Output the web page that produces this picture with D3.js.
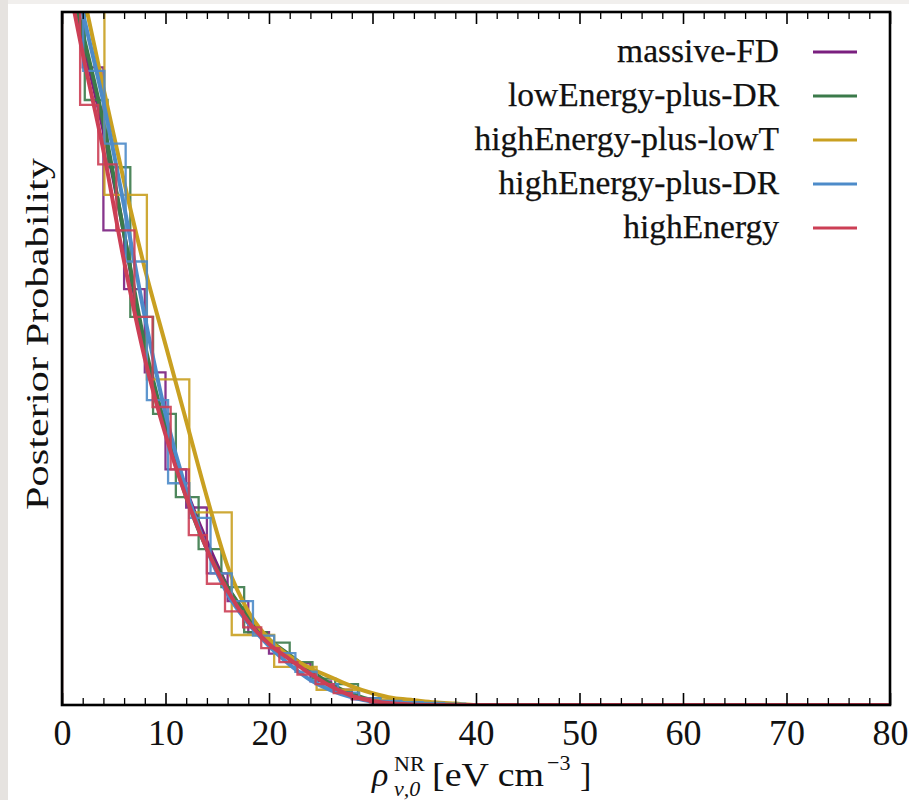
<!DOCTYPE html>
<html><head><meta charset="utf-8">
<script src="https://cdn.jsdelivr.net/npm/d3@7"></script>
<style>body{margin:0;background:#fff}svg{display:block}</style>
</head><body><svg id="c" width="909" height="800"></svg>
<script>
// ---------------- data ----------------
const categories = ["massive-FD","lowEnergy-plus-DR","highEnergy-plus-lowT","highEnergy-plus-DR","highEnergy"];
const xMajorTicks = [0,10,20,30,40,50,60,70,80];
const xMinorTicks = d3.range(0,81,2).filter(v => v % 10 !== 0);
const xTickLabels = ["0","10","20","30","40","50","60","70","80"];

// histogram bin layout (in units of rho)
const binStart = [0, 0, 0, 0, 0];
const binWidth = [2.0, 2.2, 4.1, 2.05, 1.75];

// histogram heights (posterior probability, arbitrary normalisation)
const histMassiveFD      = [1.06,0.92,0.685,0.60,0.48,0.34,0.285,0.19,0.15,0.105,0.074,0.060,0.034,0.022,0.008,0.003,0.001,0.0004,0.0001];
const histLowEnergyDR    = [1.05,0.873,0.776,0.56,0.42,0.30,0.225,0.17,0.105,0.09,0.062,0.038,0.03,0.010,0.004,0.001,0.0003];
const histHighEnergyLowT = [1.12,0.736,0.47,0.278,0.101,0.055,0.022,0.008,0.003,0.001];
const histHighEnergyDR   = [1.08,0.915,0.81,0.64,0.44,0.32,0.27,0.19,0.15,0.10,0.075,0.048,0.03,0.018,0.01,0.006,0.004,0.003,0.002];
const histHighEnergy     = [1.04,0.866,0.78,0.685,0.56,0.43,0.34,0.245,0.175,0.135,0.112,0.082,0.062,0.044,0.030,0.017,0.009,0.004,0.002,0.001,0.0003];

// smooth density curves sampled at curveX
const curveX = [0,2,4,6,8,10,12,14,16,18,20,22,24,26,28,30,32,34,36,38,40,80];
const curveMassiveFD      = [1.09,0.96,0.83,0.68,0.51,0.40,0.31,0.235,0.17,0.125,0.09,0.068,0.046,0.027,0.013,0.005,0.001,0,0,0,0,0];
const curveLowEnergyDR    = [1.10,0.97,0.84,0.68,0.52,0.40,0.30,0.225,0.17,0.128,0.095,0.072,0.05,0.03,0.016,0.007,0.003,0.001,0,0,0,0];
const curveHighEnergyLowT = [1.16,1.03,0.89,0.755,0.63,0.52,0.41,0.30,0.20,0.135,0.095,0.07,0.053,0.04,0.027,0.017,0.01,0.007,0.004,0.002,0,0];
const curveHighEnergyDR   = [1.14,1.00,0.87,0.72,0.56,0.42,0.31,0.225,0.16,0.118,0.085,0.058,0.036,0.021,0.011,0.005,0.002,0.0005,0,0,0,0];
const curveHighEnergy     = [1.09,0.94,0.80,0.64,0.50,0.39,0.30,0.225,0.165,0.12,0.088,0.066,0.045,0.027,0.013,0.006,0.002,0.0005,0,0,0,0];

const histData  = [histMassiveFD, histLowEnergyDR, histHighEnergyLowT, histHighEnergyDR, histHighEnergy];
const curveData = [curveMassiveFD, curveLowEnergyDR, curveHighEnergyLowT, curveHighEnergyDR, curveHighEnergy];

// ---------------- styles ----------------
const colors = ["#7a1f7f","#3b7a4a","#c9a021","#4d8bc9","#cc3f55"];
const L = 62, R = 890, T = 12, B = 705;

const svg = d3.select("#c");
// page edge strips
svg.append("rect").attr("x",0).attr("y",0).attr("width",909).attr("height",4).attr("fill","#f1efed");
svg.append("rect").attr("x",0).attr("y",0).attr("width",8).attr("height",800).attr("fill","#e6e3e0");

const x = d3.scaleLinear().domain([0,80]).range([L,R]);
const y = d3.scaleLinear().domain([0,1]).range([B,T]);

svg.append("defs").append("clipPath").attr("id","clip")
  .append("rect").attr("x",L).attr("y",T).attr("width",R-L).attr("height",B-T);

const plot = svg.append("g").attr("clip-path","url(#clip)");

const stepLine = d3.line().x(d=>x(d[0])).y(d=>y(d[1])).curve(d3.curveStepAfter);
const smoothLine = d3.line().x(d=>x(d[0])).y(d=>y(d[1])).curve(d3.curveMonotoneX);

categories.forEach((name,i) => {
  const h = histData[i];
  const pts = [[binStart[i],0]];
  h.forEach((v,k) => pts.push([binStart[i]+k*binWidth[i], v]));
  const end = binStart[i] + h.length*binWidth[i];
  pts.push([end, h[h.length-1]]);
  const path = stepLine(pts) + "L" + x(end) + "," + y(0);
  plot.append("path").attr("d", path).attr("fill","none")
    .attr("stroke", colors[i]).attr("stroke-width",2.3).attr("stroke-opacity",0.9);
  const cpts = curveX.map((cx,k)=>[cx, curveData[i][k]]);
  plot.append("path").attr("d", smoothLine(cpts)).attr("fill","none")
    .attr("stroke", colors[i]).attr("stroke-width",4).attr("stroke-linejoin","round");
});

// axes ticks (inside)
const gB = svg.append("g").attr("transform",`translate(0,${B})`)
  .call(d3.axisBottom(x).tickValues(xMajorTicks).tickSizeInner(-12).tickSizeOuter(0)
        .tickPadding(14).tickFormat((d,i)=>xTickLabels[i]));
gB.select(".domain").remove();
gB.selectAll(".tick line").attr("stroke","#000").attr("stroke-width",1.6);
gB.selectAll(".tick text").attr("font-family","Liberation Serif").attr("font-size",36)
  .attr("fill","#111").attr("dy","0.72em");
const gBm = svg.append("g").attr("transform",`translate(0,${B})`)
  .call(d3.axisBottom(x).tickValues(xMinorTicks).tickSizeInner(-7).tickSizeOuter(0).tickFormat(""));
gBm.select(".domain").remove();
gBm.selectAll(".tick line").attr("stroke","#000").attr("stroke-width",1.3);

const gT = svg.append("g").attr("transform",`translate(0,${T})`)
  .call(d3.axisTop(x).tickValues(xMajorTicks).tickSizeInner(-12).tickSizeOuter(0).tickFormat(""));
gT.select(".domain").remove();
gT.selectAll(".tick line").attr("stroke","#000").attr("stroke-width",1.6);
const gTm = svg.append("g").attr("transform",`translate(0,${T})`)
  .call(d3.axisTop(x).tickValues(xMinorTicks).tickSizeInner(-7).tickSizeOuter(0).tickFormat(""));
gTm.select(".domain").remove();
gTm.selectAll(".tick line").attr("stroke","#000").attr("stroke-width",1.3);

// frame
svg.append("rect").attr("x",L).attr("y",T).attr("width",R-L).attr("height",B-T)
  .attr("fill","none").attr("stroke","#000").attr("stroke-width",2.6);

// legend
const leg = svg.append("g");
categories.forEach((name,i) => {
  const by = 62 + i*44;
  leg.append("text").attr("x",779).attr("y",by).attr("text-anchor","end")
    .attr("font-family","Liberation Serif").attr("font-size",33.5).attr("fill","#111")
    .attr("stroke","#111").attr("stroke-width",0.25).text(name);
  leg.append("line").attr("x1",813).attr("x2",857).attr("y1",by-10).attr("y2",by-10)
    .attr("stroke",colors[i]).attr("stroke-width",3);
});

// y label
svg.append("text").attr("transform","translate(48,334) rotate(-90)")
  .attr("text-anchor","middle").attr("font-family","Liberation Serif").attr("font-size",31)
  .attr("textLength",352).attr("lengthAdjust","spacingAndGlyphs")
  .attr("fill","#111").text("Posterior Probability");

// x label
const xl = svg.append("g").attr("font-family","Liberation Serif").attr("fill","#111");
xl.append("text").attr("x",372).attr("y",786).attr("font-size",34).attr("font-style","italic").text("ρ");
xl.append("text").attr("x",394).attr("y",771).attr("font-size",22).text("NR");
xl.append("text").attr("x",394).attr("y",796).attr("font-size",22).attr("font-style","italic").text("ν,0");
xl.append("text").attr("x",432).attr("y",786).attr("font-size",34)
  .attr("textLength",112).attr("lengthAdjust","spacingAndGlyphs").text("[eV cm");
xl.append("text").attr("x",547).attr("y",770).attr("font-size",22).text("−3");
xl.append("text").attr("x",580).attr("y",786).attr("font-size",34).text("]");
</script></body></html>
